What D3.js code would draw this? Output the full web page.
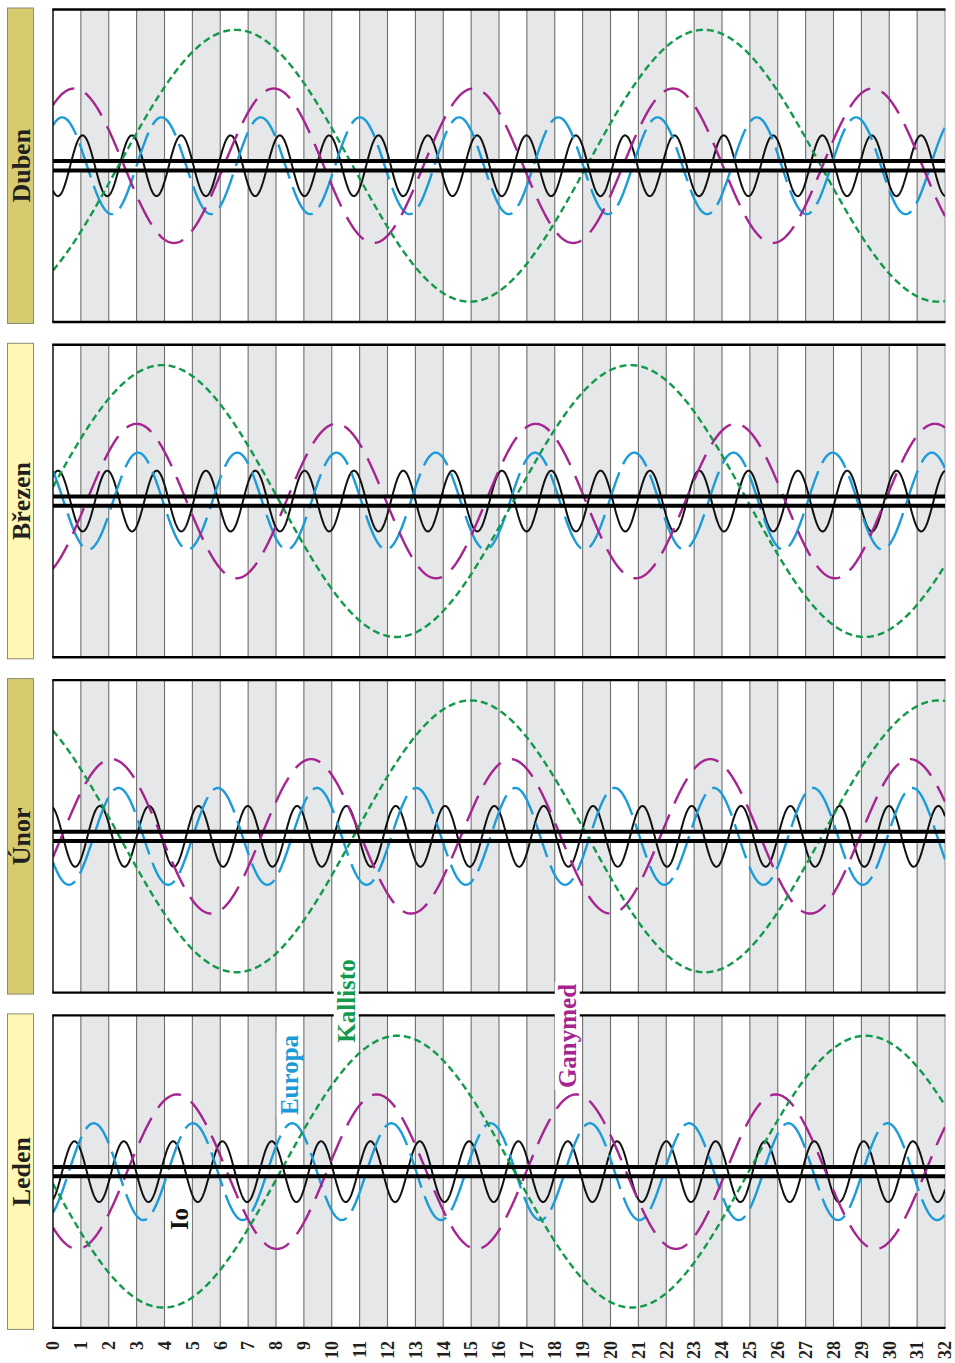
<!DOCTYPE html>
<html>
<head>
<meta charset="utf-8">
<script src="https://cdn.jsdelivr.net/npm/d3@7"></script>
<style>
  body { margin: 0; background: #fff; }
  svg { display: block; }
</style>
</head>
<body>
<script>
// Panels, top to bottom
const months = ["Duben", "Březen", "Únor", "Leden"];

// Day axis tick labels
const dayTicks = ["0","1","2","3","4","5","6","7","8","9","10","11","12","13","14","15","16",
                  "17","18","19","20","21","22","23","24","25","26","27","28","29","30","31","32"];

// Galilean moons: elongation amplitude (Jupiter radii) and apparent period (days)
const moons = ["Io", "Europa", "Ganymed", "Kallisto"];
const moonAmplitude = [5.9, 9.4, 15.0, 26.4];
const moonPeriod = [1.7695, 3.56, 7.16, 16.8];

// Day of an upper elongation for each moon, per month (Io, Europa, Ganymed, Kallisto)
const peakDuben  = [1.06, 0.33, 0.76, 6.55];
const peakBrezen = [0.18, 3.05, 3.00, 3.92];
const peakUnor   = [1.68, 2.35, 2.10, 14.98];
const peakLeden  = [0.77, 1.46, 4.45, 12.36];
const peaks = [peakDuben, peakBrezen, peakUnor, peakLeden];

// ---- styling ----
const W = 955, H = 1363;
const plotLeft = 53, plotRight = 945;
const panelTop0 = 9.5, panelH = 312.5, panelStep = 335.3;
const monthFill = ["#d7cb70", "#fff8b4", "#d7cb70", "#fff8b4"];
const moonColor = ["#111111", "#1b9bd7", "#a5248f", "#12994b"];
const moonWidth = [2, 2.4, 2.4, 2.4];
const moonDash = [null, "36,9", "28,12", "7,4"];
const serif = "'Liberation Serif','DejaVu Serif',serif";

const svg = d3.select("body").append("svg")
  .attr("width", W).attr("height", H);

const x = d3.scaleLinear().domain([0, 32]).range([plotLeft, plotRight]);
const tSamples = d3.range(0, 32.0001, 0.02);

months.forEach((m, i) => {
  const top = panelTop0 + i * panelStep;
  const bottom = top + panelH;
  const y = d3.scaleLinear().domain([-30.35, 30.35]).range([bottom, top]);
  const g = svg.append("g");

  const clipId = "clip" + i;
  g.append("clipPath").attr("id", clipId)
    .append("rect").attr("x", plotLeft).attr("y", top)
    .attr("width", plotRight - plotLeft).attr("height", panelH);

  // alternating day stripes
  g.selectAll("rect.stripe").data(d3.range(0, 32).filter(d => d % 2 === 1))
    .join("rect").attr("class", "stripe")
    .attr("x", d => x(d)).attr("width", d => x(d + 1) - x(d))
    .attr("y", top).attr("height", panelH)
    .attr("fill", "#e6e7e9");

  // day grid lines
  g.selectAll("line.grid").data(d3.range(1, 33))
    .join("line").attr("class", "grid")
    .attr("x1", d => x(d)).attr("x2", d => x(d))
    .attr("y1", top).attr("y2", bottom)
    .attr("stroke", d => d === 32 ? "#9a9a9a" : "#6e6e6e")
    .attr("stroke-width", 1.1);

  // Jupiter disc band
  g.append("rect")
    .attr("x", plotLeft).attr("width", plotRight - plotLeft)
    .attr("y", y(0.9)).attr("height", y(-0.9) - y(0.9))
    .attr("fill", "#fff");

  // moon tracks
  const curves = g.append("g").attr("clip-path", `url(#${clipId})`);
  moons.forEach((moon, k) => {
    const A = moonAmplitude[k], P = moonPeriod[k], t0 = peaks[i][k];
    const line = d3.line()
      .x(t => x(t))
      .y(t => y(A * Math.cos(2 * Math.PI * (t - t0) / P)))
      .curve(d3.curveLinear);
    curves.append("path")
      .attr("d", line(tSamples))
      .attr("fill", "none")
      .attr("stroke", moonColor[k])
      .attr("stroke-width", moonWidth[k])
      .attr("stroke-dasharray", moonDash[k]);
  });

  // Jupiter limbs
  [0.9, -0.9].forEach(v => {
    g.append("line")
      .attr("x1", plotLeft).attr("x2", plotRight)
      .attr("y1", y(v)).attr("y2", y(v))
      .attr("stroke", "#000").attr("stroke-width", 4);
  });

  // frame: top, bottom, left
  g.append("line").attr("x1", plotLeft - 0.75).attr("x2", plotRight + 0.5)
    .attr("y1", top).attr("y2", top).attr("stroke", "#000").attr("stroke-width", 2.4);
  g.append("line").attr("x1", plotLeft - 0.75).attr("x2", plotRight + 0.5)
    .attr("y1", bottom).attr("y2", bottom).attr("stroke", "#000").attr("stroke-width", 2.4);
  g.append("line").attr("x1", plotLeft).attr("x2", plotLeft)
    .attr("y1", top).attr("y2", bottom).attr("stroke", "#000").attr("stroke-width", 1.4);

  // month tab
  g.append("rect")
    .attr("x", 7.5).attr("y", top - 1.5)
    .attr("width", 26).attr("height", panelH + 3)
    .attr("fill", monthFill[i]).attr("stroke", "#8d8a72").attr("stroke-width", 1);
  g.append("text")
    .attr("transform", `translate(21,${(top + bottom) / 2}) rotate(-90)`)
    .attr("text-anchor", "middle").attr("dy", "0.35em")
    .attr("font-family", serif).attr("font-weight", "bold").attr("font-size", 26)
    .attr("fill", "#231f20")
    .text(m);
});

// day axis labels under the bottom panel
const axisY = panelTop0 + 3 * panelStep + panelH + 13;
svg.append("g").selectAll("text").data(dayTicks)
  .join("text")
  .attr("transform", d => `translate(${x(+d)},${axisY}) rotate(-90)`)
  .attr("text-anchor", "end").attr("dy", "0.35em")
  .attr("font-family", serif).attr("font-weight", "bold").attr("font-size", 18)
  .attr("fill", "#231f20")
  .text(d => d);

// moon names in the January panel (Io, Europa, Ganymed, Kallisto)
const nameX = [179, 289, 567, 346];
const nameY = [1219, 1075, 1036, 1001];
const labels = svg.append("g");
moons.forEach((moon, k) => {
  const t = labels.append("text")
    .attr("transform", `translate(${nameX[k]},${nameY[k]}) rotate(-90)`)
    .attr("text-anchor", "middle").attr("dy", "0.35em")
    .attr("font-family", serif).attr("font-weight", "bold").attr("font-size", 25)
    .attr("fill", moonColor[k])
    .text(moon);
  const b = t.node().getBBox();
  labels.insert("rect", () => t.node())
    .attr("transform", `translate(${nameX[k]},${nameY[k]}) rotate(-90)`)
    .attr("x", b.x - 2).attr("y", b.y + 1)
    .attr("width", b.width + 4).attr("height", b.height - 2)
    .attr("fill", "#fff");
});
</script>
</body>
</html>
